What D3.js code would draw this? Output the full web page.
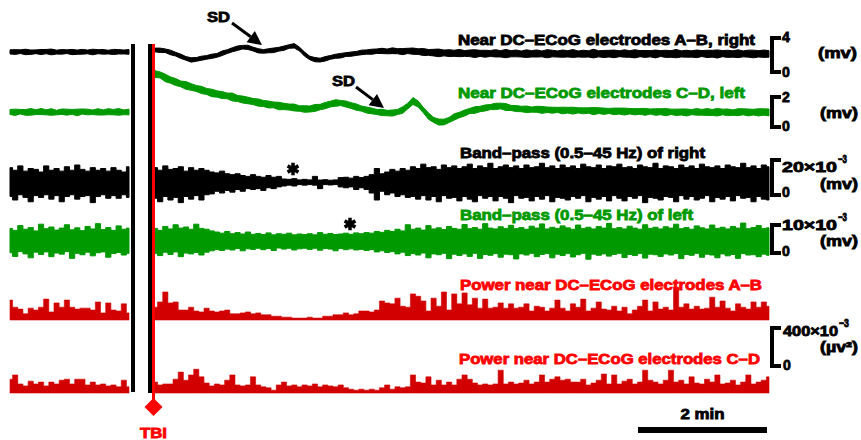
<!DOCTYPE html>
<html lang="en">
<head>
<meta charset="UTF-8">
<title>DC-ECoG traces around TBI</title>
<style>
  body { margin: 0; background: #fff; }
  svg { display: block; }
  .lbl { font-family: "Liberation Sans", Arial, sans-serif; font-weight: bold; }
</style>
</head>
<body>
<svg width="861" height="440"></svg>
<script src="https://d3js.org/d3.v7.min.js"></script>
<script>
// sampling: one value every 0.08 min, TBI at t = 0
const dt = 0.08;
const preStart = -1.84;

// DC-ECoG A-B (right), mV : centre and half-width of the noisy trace
const dcRightPreMid = [2.37, 2.35, 2.39, 2.36, 2.33, 2.38, 2.35, 2.40, 2.36, 2.34, 2.37, 2.39, 2.35, 2.33, 2.38, 2.36, 2.35, 2.39, 2.37, 2.34, 2.36, 2.38, 2.35, 2.37];
const dcRightPreSpread = [0.24, 0.28, 0.22, 0.32, 0.26, 0.22, 0.30, 0.25, 0.34, 0.23, 0.27, 0.22, 0.31, 0.25, 0.28, 0.22, 0.33, 0.24, 0.27, 0.22, 0.30, 0.26, 0.23, 0.28];
const dcRightPostMid = [
  2.59, 2.55, 2.50, 2.30, 2.10, 1.85, 1.60, 1.42, 1.48, 1.62,
  1.72, 1.85, 1.95, 2.20, 2.40, 2.62, 2.80, 2.92, 2.90, 2.70,
  2.50, 2.42, 2.50, 2.55, 2.68, 2.80, 3.00, 3.08, 2.70, 2.10,
  1.65, 1.45, 1.40, 1.55, 1.72, 1.85, 1.92, 2.05, 2.10, 2.18,
  2.30, 2.35, 2.38, 2.45, 2.48, 2.42, 2.50, 2.45, 2.40, 2.48,
  2.45, 2.40, 2.35, 2.30, 2.28, 2.25, 2.24, 2.22, 2.20, 2.23,
  2.18, 2.20, 2.16, 2.19, 2.15, 2.18, 2.20, 2.14, 2.17, 2.15,
  2.19, 2.12, 2.16, 2.14, 2.18, 2.13, 2.15, 2.17, 2.12, 2.16,
  2.14, 2.18, 2.12, 2.15, 2.13, 2.17, 2.14, 2.12, 2.16, 2.13,
  2.15, 2.18, 2.12, 2.14, 2.16, 2.13, 2.15, 2.12, 2.17, 2.14,
  2.12, 2.16, 2.13, 2.15, 2.12, 2.14, 2.17, 2.13, 2.15, 2.12,
  2.16, 2.14, 2.12, 2.15, 2.13, 2.16, 2.12, 2.14, 2.15, 2.13];
const dcRightPostSpread = [
  0.22, 0.26, 0.21, 0.27, 0.22, 0.25, 0.21, 0.26, 0.22, 0.24,
  0.21, 0.25, 0.22, 0.27, 0.22, 0.24, 0.26, 0.21, 0.25, 0.22,
  0.25, 0.21, 0.24, 0.27, 0.22, 0.25, 0.21, 0.26, 0.22, 0.24,
  0.21, 0.25, 0.22, 0.26, 0.22, 0.24, 0.27, 0.22, 0.25, 0.23,
  0.27, 0.25, 0.30, 0.26, 0.31, 0.28, 0.34, 0.30, 0.36, 0.31,
  0.37, 0.33, 0.41, 0.34, 0.39, 0.45, 0.34, 0.40, 0.36, 0.43,
  0.34, 0.39, 0.46, 0.36, 0.41, 0.35, 0.43, 0.37, 0.49, 0.36,
  0.40, 0.35, 0.45, 0.37, 0.42, 0.34, 0.48, 0.39, 0.36, 0.43,
  0.37, 0.46, 0.35, 0.41, 0.37, 0.51, 0.36, 0.42, 0.39, 0.45,
  0.35, 0.43, 0.39, 0.48, 0.36, 0.41, 0.37, 0.46, 0.35, 0.42,
  0.39, 0.49, 0.36, 0.41, 0.37, 0.45, 0.35, 0.43, 0.40, 0.48,
  0.36, 0.42, 0.37, 0.46, 0.35, 0.41, 0.45, 0.37, 0.43, 0.39];

// DC-ECoG C-D (left), mV
const dcLeftPreMid = [1.00, 0.98, 1.02, 0.97, 1.01, 0.99, 1.03, 0.98, 1.00, 0.96, 1.02, 0.99, 1.01, 0.97, 1.03, 1.00, 0.98, 1.01, 0.97, 1.02, 0.99, 1.01, 0.98, 1.00];
const dcLeftPreSpread = [0.17, 0.21, 0.15, 0.19, 0.22, 0.16, 0.20, 0.17, 0.22, 0.15, 0.18, 0.20, 0.16, 0.22, 0.17, 0.19, 0.15, 0.21, 0.17, 0.20, 0.18, 0.22, 0.16, 0.19];
const dcLeftPostMid = [
  3.53, 3.47, 3.27, 3.13, 3.00, 2.87, 2.77, 2.67, 2.57, 2.47,
  2.37, 2.27, 2.20, 2.13, 2.07, 2.00, 1.90, 1.83, 1.77, 1.70,
  1.63, 1.57, 1.50, 1.47, 1.40, 1.37, 1.33, 1.30, 1.23, 1.20,
  1.20, 1.27, 1.33, 1.43, 1.53, 1.60, 1.60, 1.53, 1.43, 1.33,
  1.23, 1.13, 1.07, 1.00, 0.97, 0.93, 0.93, 1.00, 1.13, 1.40,
  1.73, 1.53, 1.13, 0.73, 0.47, 0.33, 0.33, 0.47, 0.67, 0.80,
  0.93, 1.07, 1.13, 1.20, 1.27, 1.33, 1.37, 1.40, 1.33, 1.27,
  1.23, 1.20, 1.18, 1.16, 1.18, 1.14, 1.15, 1.12, 1.14, 1.10,
  1.12, 1.09, 1.11, 1.08, 1.10, 1.06, 1.09, 1.05, 1.07, 1.04,
  1.06, 1.03, 1.05, 1.02, 1.04, 1.01, 1.03, 1.00, 1.02, 0.99,
  1.01, 0.98, 1.00, 0.97, 0.99, 1.01, 0.98, 1.00, 0.97, 0.99,
  1.00, 0.98, 0.96, 0.99, 1.01, 0.97, 0.99, 0.98, 1.00, 0.97];
const dcLeftPostSpread = [
  0.22, 0.20, 0.25, 0.21, 0.23, 0.19, 0.26, 0.22, 0.20, 0.24,
  0.20, 0.25, 0.21, 0.23, 0.19, 0.26, 0.20, 0.23, 0.22, 0.20,
  0.24, 0.20, 0.23, 0.19, 0.25, 0.21, 0.20, 0.23, 0.18, 0.22,
  0.20, 0.23, 0.18, 0.21, 0.19, 0.22, 0.17, 0.20, 0.19, 0.21,
  0.17, 0.20, 0.19, 0.17, 0.21, 0.18, 0.20, 0.17, 0.22, 0.19,
  0.23, 0.20, 0.18, 0.21, 0.17, 0.20, 0.19, 0.17, 0.21, 0.18,
  0.20, 0.17, 0.22, 0.18, 0.20, 0.17, 0.21, 0.19, 0.23, 0.17,
  0.20, 0.18, 0.22, 0.17, 0.20, 0.23, 0.18, 0.20, 0.17, 0.22,
  0.19, 0.23, 0.17, 0.20, 0.18, 0.24, 0.19, 0.21, 0.17, 0.22,
  0.20, 0.23, 0.18, 0.21, 0.19, 0.23, 0.17, 0.22, 0.20, 0.24,
  0.18, 0.21, 0.20, 0.23, 0.17, 0.22, 0.19, 0.23, 0.20, 0.25,
  0.19, 0.22, 0.18, 0.23, 0.20, 0.23, 0.19, 0.24, 0.21, 0.23];

// band-pass 0.5-45 Hz, right (x10^-3 mV): upper / lower envelope
const bpRightPreHi = [8.5, 7, 9.5, 6.5, 8, 7.5, 6, 9.5, 7, 8, 6.5, 9, 7, 10, 7.5, 6.5, 8.5, 7, 8, 6.5, 8.5, 7, 6, 9];
const bpRightPreLo = [-8, -10, -7, -8.5, -11, -7.5, -8.5, -7, -9.5, -7.5, -11, -8, -7, -9.5, -8, -7.5, -11.5, -8, -7, -9, -7.5, -9, -7, -8.5];
const bpRightPostHi = [
  8.5, 7, 9.5, 7.5, 8, 9, 6.5, 8.5, 7, 8,
  7, 6, 5.5, 6.5, 5, 4.5, 5, 4, 3.5, 4.5,
  3.5, 3, 4, 3, 3.5, 2, 1.8, 2.2, 1.5, 1.8,
  1.5, 3.5, 1.4, 1.6, 1.3, 1.5, 2.8, 3, 2.5, 3.5,
  2.8, 3.5, 4.5, 8, 5, 6, 7.5, 6.5, 8, 7,
  9, 8, 10.5, 8.5, 9, 7.5, 10, 8.5, 9.5, 8,
  9, 10.5, 8, 9.5, 8.5, 11, 8, 9, 10, 8.5,
  9.5, 8, 10, 8.5, 9, 11, 8.5, 9.5, 8, 10,
  8.5, 9.5, 8, 10.5, 9, 8.5, 10, 8, 9.5, 9,
  10.5, 8.5, 9, 8, 10, 9, 8.5, 11, 8, 9.5,
  9, 8, 10, 8.5, 9.5, 8, 10.5, 9, 8.5, 9.5,
  8, 10, 9, 8.5, 11, 8.5, 9.5, 8, 10, 9];
const bpRightPostLo = [
  -9, -11, -8, -10, -8.5, -11.5, -8, -9.5, -7.5, -10,
  -7, -6.5, -5, -6, -4.5, -5.5, -4, -5, -3.5, -4,
  -3.5, -4.5, -3, -3.5, -2.5, -2, -1.5, -2, -1.2, -1.5,
  -1.2, -1.5, -3.5, -1.2, -1.4, -1.2, -2.5, -3, -2.5, -4,
  -3, -4, -6, -10, -5, -7, -6, -8, -7, -8.5,
  -8, -9.5, -7.5, -10, -8, -11, -7.5, -9, -8.5, -10.5,
  -8, -9.5, -11, -7.5, -9, -8, -10.5, -8, -9, -11.5,
  -7.5, -9, -8.5, -10.5, -8, -9.5, -7.5, -11, -8.5, -9,
  -10, -8, -9, -7.5, -11, -8.5, -9.5, -8, -10.5, -7.5,
  -9, -10.5, -8, -9, -7.5, -11.5, -8.5, -9, -10, -8,
  -8.5, -11, -7.5, -9.5, -8, -10, -9, -7.5, -11, -8.5,
  -9.5, -8, -10.5, -7.5, -9, -8.5, -11, -8, -9.5, -10];

// band-pass 0.5-45 Hz, left (x10^-3 mV)
const bpLeftPreHi = [4.5, 3.8, 5.5, 4.2, 4.8, 3.6, 6, 4.4, 5, 3.9, 4.6, 5.8, 4, 4.7, 3.7, 5.2, 4.3, 6.2, 4.1, 4.8, 3.8, 5.4, 4.2, 4.6];
const bpLeftPreLo = [-4.2, -5.5, -3.8, -4.6, -6, -4, -4.8, -3.9, -5.6, -4.3, -4.7, -3.8, -6.2, -4.4, -4.9, -4, -5.3, -4.2, -3.9, -5.8, -4.5, -4.1, -5, -4.4];
const bpLeftPostHi = [
  4.5, 3.8, 5.2, 4.3, 5.8, 4.6, 5, 4.2, 6, 4.5,
  4.2, 3.6, 3.2, 2.8, 3.4, 2.6, 3, 2.5, 3.2, 2.4,
  2.7, 2.3, 2.9, 2.2, 2.6, 2.4, 2.8, 2.2, 2.5, 2.3,
  2.6, 2.2, 3, 2.4, 2.7, 2.3, 2.5, 2.8, 2.4, 2.9,
  2.6, 3, 2.8, 3.4, 3.1, 3.8, 3.4, 4.2, 3.6, 5.8,
  4.2, 4.6, 3.9, 5.5, 4.3, 4.7, 4.1, 5.2, 4.5, 4.2,
  5.9, 4.4, 4.8, 4.2, 6.2, 4.6, 4.3, 5.1, 4.5, 5.6,
  4.4, 4.8, 4.2, 5.3, 4.6, 6.1, 4.3, 4.9, 4.5, 5.4,
  4.7, 4.2, 5.7, 4.5, 4.9, 4.3, 5.2, 4.6, 6.3, 4.4,
  4.8, 4.3, 5.3, 4.6, 4.2, 5.8, 4.5, 4.9, 4.3, 5.1,
  4.6, 6, 4.4, 4.8, 4.2, 5.4, 4.7, 4.3, 5.7, 4.5,
  4.9, 4.3, 5.2, 4.6, 6.4, 4.4, 4.8, 5.5, 4.5, 4.7];
const bpLeftPostLo = [
  -4.4, -5.2, -4, -4.8, -3.9, -5.6, -4.3, -4.6, -4.1, -5,
  -4, -3.5, -3.1, -3.4, -2.9, -3.2, -2.7, -3.5, -2.8, -3,
  -2.6, -3.1, -2.7, -3.4, -2.5, -2.9, -2.6, -3.2, -2.8, -2.6,
  -3, -2.6, -3.3, -2.7, -2.9, -3.5, -2.7, -3.1, -2.8, -3.2,
  -3, -3.4, -3.1, -3.9, -3.5, -4.1, -3.8, -4.6, -4, -5.2,
  -4.5, -5, -4.3, -6, -4.6, -4.9, -4.4, -6.3, -4.7, -5.2,
  -4.6, -5.5, -4.4, -6.2, -4.8, -5.1, -4.5, -5.8, -4.7, -4.9,
  -6.4, -4.6, -5, -4.4, -5.6, -4.8, -4.5, -6, -4.7, -5.2,
  -4.5, -5.7, -4.9, -4.4, -6.5, -4.7, -5.1, -4.6, -5.4, -4.8,
  -4.4, -5.9, -4.8, -5.2, -4.5, -6.1, -4.7, -4.9, -5.5, -4.6,
  -5, -4.5, -6.3, -4.8, -5.1, -4.4, -5.8, -4.7, -5, -6,
  -4.6, -5.3, -4.8, -6.2, -4.5, -5, -4.9, -5.6, -4.7, -5.1];

// power (x10^-3 uV^2)
const powerABPre = [210, 135, 115, 65, 125, 105, 135, 220, 85, 180, 135, 210, 135, 115, 125, 125, 105, 190, 75, 180, 105, 95, 170, 75];
const powerABPost = [
  135, 190, 295, 180, 190, 105, 105, 135, 95, 85,
  125, 95, 85, 95, 105, 65, 65, 75, 85, 65,
  75, 55, 55, 40, 40, 30, 30, 20, 20, 20,
  30, 20, 20, 40, 40, 55, 55, 75, 55, 65,
  95, 95, 85, 105, 200, 180, 170, 230, 145, 135,
  275, 250, 200, 95, 230, 145, 295, 105, 275, 170,
  285, 160, 230, 125, 220, 125, 135, 180, 125, 170,
  125, 135, 170, 95, 145, 135, 95, 125, 210, 125,
  95, 170, 135, 220, 95, 125, 190, 115, 105, 145,
  95, 135, 65, 105, 145, 210, 95, 190, 115, 135,
  105, 345, 135, 170, 115, 145, 115, 125, 240, 135,
  200, 125, 95, 170, 135, 115, 190, 135, 190, 145];
const powerCDPre = [145, 190, 95, 75, 125, 95, 115, 75, 115, 95, 135, 145, 95, 145, 145, 85, 115, 85, 95, 75, 85, 65, 135, 65];
const powerCDPost = [
  115, 85, 95, 95, 145, 220, 135, 190, 250, 170,
  105, 75, 95, 85, 135, 190, 85, 75, 85, 170,
  85, 65, 55, 30, 85, 115, 75, 85, 65, 85,
  75, 95, 65, 85, 75, 65, 85, 55, 40, 30,
  40, 30, 40, 30, 55, 85, 40, 65, 55, 65,
  190, 115, 105, 170, 85, 135, 85, 115, 85, 145,
  190, 145, 105, 85, 95, 85, 95, 240, 95, 115,
  95, 105, 135, 95, 115, 190, 115, 145, 170, 135,
  145, 115, 115, 145, 85, 105, 135, 200, 95, 190,
  95, 125, 145, 95, 115, 240, 135, 115, 95, 135,
  240, 115, 135, 95, 170, 105, 95, 145, 115, 190,
  95, 105, 135, 85, 115, 190, 95, 115, 135, 170];

const svg = d3.select("svg");

const BLACK = "#000", GREEN = "#009a00", RED = "#ff0000", FILLRED = "#d20000";

const xPre = d3.scaleLinear().domain([preStart, 0]).range([10, 129]);
const xPost = d3.scaleLinear().domain([0, 9.52]).range([155, 769]);
const tPre = i => preStart + i * dt;
const tPost = i => i * dt;

// one y scale per row
const yDCR = d3.scaleLinear().domain([0, 4]).range([72, 38]);
const yDCL = d3.scaleLinear().domain([0, 2]).range([127, 97]);
const yBPR = d3.scaleLinear().domain([-10, 10]).range([200, 165]);
const yBPL = d3.scaleLinear().domain([-5, 5]).range([255, 227]);
const yPA = d3.scaleLinear().domain([0, 400]).range([320, 282]);
const yPB = d3.scaleLinear().domain([0, 400]).range([393, 355]);

function band(pre, lo, hi, y, color, curve, stroke) {
  const x = pre ? xPre : xPost, t = pre ? tPre : tPost;
  const area = d3.area()
    .x((d, i) => x(t(i)))
    .y0((d, i) => y(lo[i]))
    .y1((d, i) => y(hi[i]))
    .curve(curve);
  svg.append("path").datum(hi).attr("d", area)
    .attr("fill", color)
    .attr("stroke", color).attr("stroke-width", stroke);
}

function dcTrace(pre, mid, spread, y, color) {
  band(pre, mid.map((m, i) => m - spread[i]), mid.map((m, i) => m + spread[i]), y, color, d3.curveLinear, 1);
}
function powerTrace(pre, vals, y) {
  band(pre, vals.map(() => 0), vals, y, FILLRED, d3.curveStep, 0.6);
}

dcTrace(true, dcRightPreMid, dcRightPreSpread, yDCR, BLACK);
dcTrace(false, dcRightPostMid, dcRightPostSpread, yDCR, BLACK);
dcTrace(true, dcLeftPreMid, dcLeftPreSpread, yDCL, GREEN);
dcTrace(false, dcLeftPostMid, dcLeftPostSpread, yDCL, GREEN);
band(true, bpRightPreLo, bpRightPreHi, yBPR, BLACK, d3.curveStep, 1);
band(false, bpRightPostLo, bpRightPostHi, yBPR, BLACK, d3.curveStep, 1);
band(true, bpLeftPreLo, bpLeftPreHi, yBPL, GREEN, d3.curveStep, 1);
band(false, bpLeftPostLo, bpLeftPostHi, yBPL, GREEN, d3.curveStep, 1);
powerTrace(true, powerABPre, yPA);
powerTrace(false, powerABPost, yPA);
powerTrace(true, powerCDPre, yPB);
powerTrace(false, powerCDPost, yPB);

// time break bars and TBI marker
svg.append("rect").attr("x", 131).attr("y", 44).attr("width", 4).attr("height", 348).attr("fill", BLACK);
svg.append("rect").attr("x", 148).attr("y", 44).attr("width", 4).attr("height", 349).attr("fill", BLACK);
svg.append("line").attr("x1", 153.5).attr("x2", 153.5).attr("y1", 44).attr("y2", 402)
  .attr("stroke", RED).attr("stroke-width", 3);
svg.append("path").attr("d", "M153.5,398 L162.5,407 L153.5,416 L144.5,407 Z").attr("fill", RED);

function label(x, y, s, color, opts = {}) {
  const t = svg.append("text").attr("class", "lbl")
    .attr("x", x).attr("y", y)
    .attr("fill", color).attr("stroke", color).attr("stroke-width", opts.sw ?? 0.8)
    .attr("font-size", opts.size || 14)
    .attr("text-anchor", opts.anchor || "start")
    .text(s);
  if (opts.width) t.attr("textLength", opts.width).attr("lengthAdjust", "spacingAndGlyphs");
  return t;
}

label(153.5, 438, "TBI", RED, { anchor: "middle", width: 27 });

// trace titles
label(755, 45, "Near DC\u2013ECoG electrodes A\u2013B, right", BLACK, { anchor: "end", width: 297 });
label(745, 98, "Near DC\u2013ECoG electrodes C\u2013D, left", GREEN, { anchor: "end", width: 287 });
label(460, 158, "Band\u2013pass (0.5\u201345 Hz) of right", BLACK, { width: 245 });
label(460, 220, "Band\u2013pass (0.5\u201345 Hz) of left", GREEN, { width: 233 });
label(460, 290, "Power near DC\u2013ECoG electrodes A\u2013B", RED, { width: 302 });
label(459, 364, "Power near DC\u2013ECoG electrodes C\u2013D", RED, { width: 301 });

// SD arrows
function arrow(x1, y1, x2, y2) {
  const dx = x2 - x1, dy = y2 - y1, len = Math.hypot(dx, dy);
  const ux = dx / len, uy = dy / len, hl = 14, hw = 7;
  const bx = x2 - ux * hl, by = y2 - uy * hl;
  svg.append("line").attr("x1", x1).attr("y1", y1).attr("x2", bx).attr("y2", by)
    .attr("stroke", BLACK).attr("stroke-width", 3);
  svg.append("path")
    .attr("d", `M${x2},${y2} L${bx - uy * hw},${by + ux * hw} L${bx + uy * hw},${by - ux * hw} Z`)
    .attr("fill", BLACK);
}
label(207, 22, "SD", BLACK, { width: 23 });
arrow(232, 23, 262, 45);
label(332, 86, "SD", BLACK, { width: 23 });
arrow(356, 87, 384, 108);

// asterisks above the depressed band-pass activity
svg.selectAll(".star").data([[293, 169], [350, 224]]).enter().append("path")
  .attr("transform", d => `translate(${d[0]},${d[1]})`)
  .attr("d", d3.symbol(d3.symbolAsterisk, 110))
  .attr("stroke", BLACK).attr("stroke-width", 3.5).attr("fill", "none");

// scale brackets
function bracket(yTop, yBot) {
  svg.append("path")
    .attr("d", `M781,${yTop} H772 V${yBot} H781`)
    .attr("fill", "none").attr("stroke", BLACK).attr("stroke-width", 4);
}
bracket(yDCR(4), yDCR(0));
label(782, 42, "4", BLACK);
label(782, 77, "0", BLACK);
label(818, 58, "(mv)", BLACK, { width: 39 });

bracket(yDCL(2), yDCL(0));
label(782, 102, "2", BLACK);
label(782, 131, "0", BLACK);
label(820, 118, "(mv)", BLACK, { width: 38 });

const bpRBot = 195;
bracket(bpRBot - (yBPR(0) - yBPR(20)), bpRBot);
label(782, 172, "20\u00d710", BLACK, { width: 55 });
label(838, 163, "\u22123", BLACK, { size: 11, width: 9 });
label(820, 189, "(mv)", BLACK, { width: 38 });
label(782, 197, "0", BLACK);

const bpLBot = 253;
bracket(bpLBot - (yBPL(0) - yBPL(10)), bpLBot);
label(782, 230, "10\u00d710", BLACK, { width: 55 });
label(838, 221, "\u22123", BLACK, { size: 11, width: 9 });
label(820, 246, "(mv)", BLACK, { width: 38 });
label(782, 256, "0", BLACK);

const pwBot = 366;
bracket(pwBot - (yPA(0) - yPA(400)), pwBot);
label(783, 336, "400\u00d710", BLACK, { width: 55 });
label(839, 327, "\u22123", BLACK, { size: 11, width: 10 });
label(820, 352, "(\u00b5v\u00b2)", BLACK, { width: 38 });
label(783, 370, "0", BLACK);

// 2 min scale bar
const barW = xPost(2) - xPost(0);
svg.append("rect").attr("x", 767 - barW).attr("y", 427).attr("width", barW).attr("height", 6).attr("fill", BLACK);
label(767 - barW / 2, 419, "2 min", BLACK, { anchor: "middle", width: 44 });
</script>
</body>
</html>
